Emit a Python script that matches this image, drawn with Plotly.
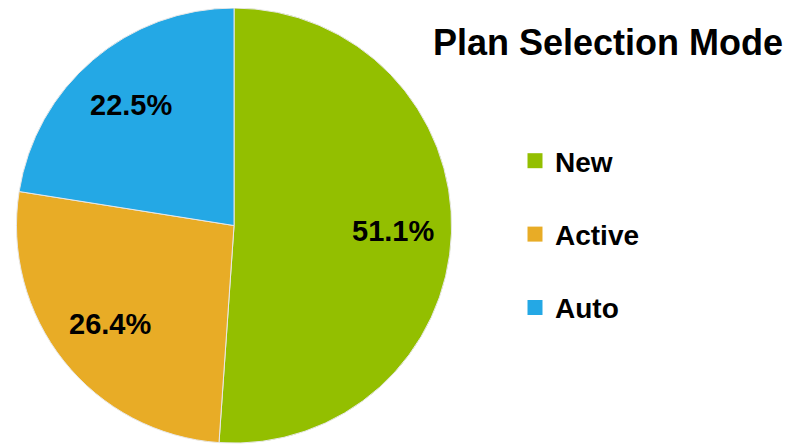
import math
import plotly.graph_objects as go

# plan selection mode shares (percent)
labels = ['New', 'Active', 'Auto']
values = [51.1, 26.4, 22.5]
colors = ['#93BF00', '#E8AC26', '#24A8E5']

title_text = 'Plan Selection Mode'
font_family = 'Liberation Sans, Arial, sans-serif'

W, H = 798, 444
dom_x = [0.0088, 0.5577]
dom_y = [0.02, 1.0]

fig = go.Figure()

pie = go.Pie(labels=labels,
             values=values,
             sort=False,
             direction='clockwise',
             rotation=0,
             marker=dict(colors=colors,
                         line=dict(color='#e8e8e8', width=1)),
             textinfo='none',
             domain=dict(x=dom_x, y=dom_y),
             showlegend=False,
             hoverinfo='label+percent')
fig.add_trace(pie)

# percentage labels placed along each slice's bisector
cx = W * sum(dom_x) / 2
cy = H * sum(dom_y) / 2
R = min(W * (dom_x[1] - dom_x[0]), H * (dom_y[1] - dom_y[0])) / 2
total = sum(values)
start = 0.0
for v in values:
    mid = (start + v / 2) / total * 2 * math.pi
    start += v
    px = cx + 0.73 * R * math.sin(mid)
    py = cy + 0.73 * R * math.cos(mid)
    fig.add_annotation(x=px / W, y=py / H, xref='paper', yref='paper',
                       text='<b>%.1f%%</b>' % v, showarrow=False,
                       xanchor='center', yanchor='middle',
                       font=dict(size=29, color='black', family=font_family))

# legend entries as separate groups so the gap can be set
for lab, col in zip(labels, colors):
    fig.add_trace(go.Scatter(x=[None], y=[None],
                             mode='markers',
                             name='<b>' + lab + '</b>',
                             legendgroup=lab,
                             marker=dict(symbol='square', size=15, color=col,
                                         line=dict(width=0))))

fig.update_xaxes(visible=False)
fig.update_yaxes(visible=False)

fig.update_layout(width=W,
                  height=H,
                  margin=dict(l=0, r=0, t=0, b=0),
                  paper_bgcolor='white',
                  plot_bgcolor='white',
                  font=dict(family=font_family, color='black'),
                  title=dict(text='<b>' + title_text + '</b>',
                             x=600 / W, xanchor='center',
                             y=(H - 34) / H, yanchor='middle',
                             font=dict(size=36, color='black')),
                  legend=dict(x=507 / W, xanchor='left',
                              y=(H - 128) / H, yanchor='top',
                              font=dict(size=28, color='black'),
                              tracegroupgap=34,
                              bgcolor='rgba(0,0,0,0)'),
                  showlegend=True)

fig.write_html('out.html')
